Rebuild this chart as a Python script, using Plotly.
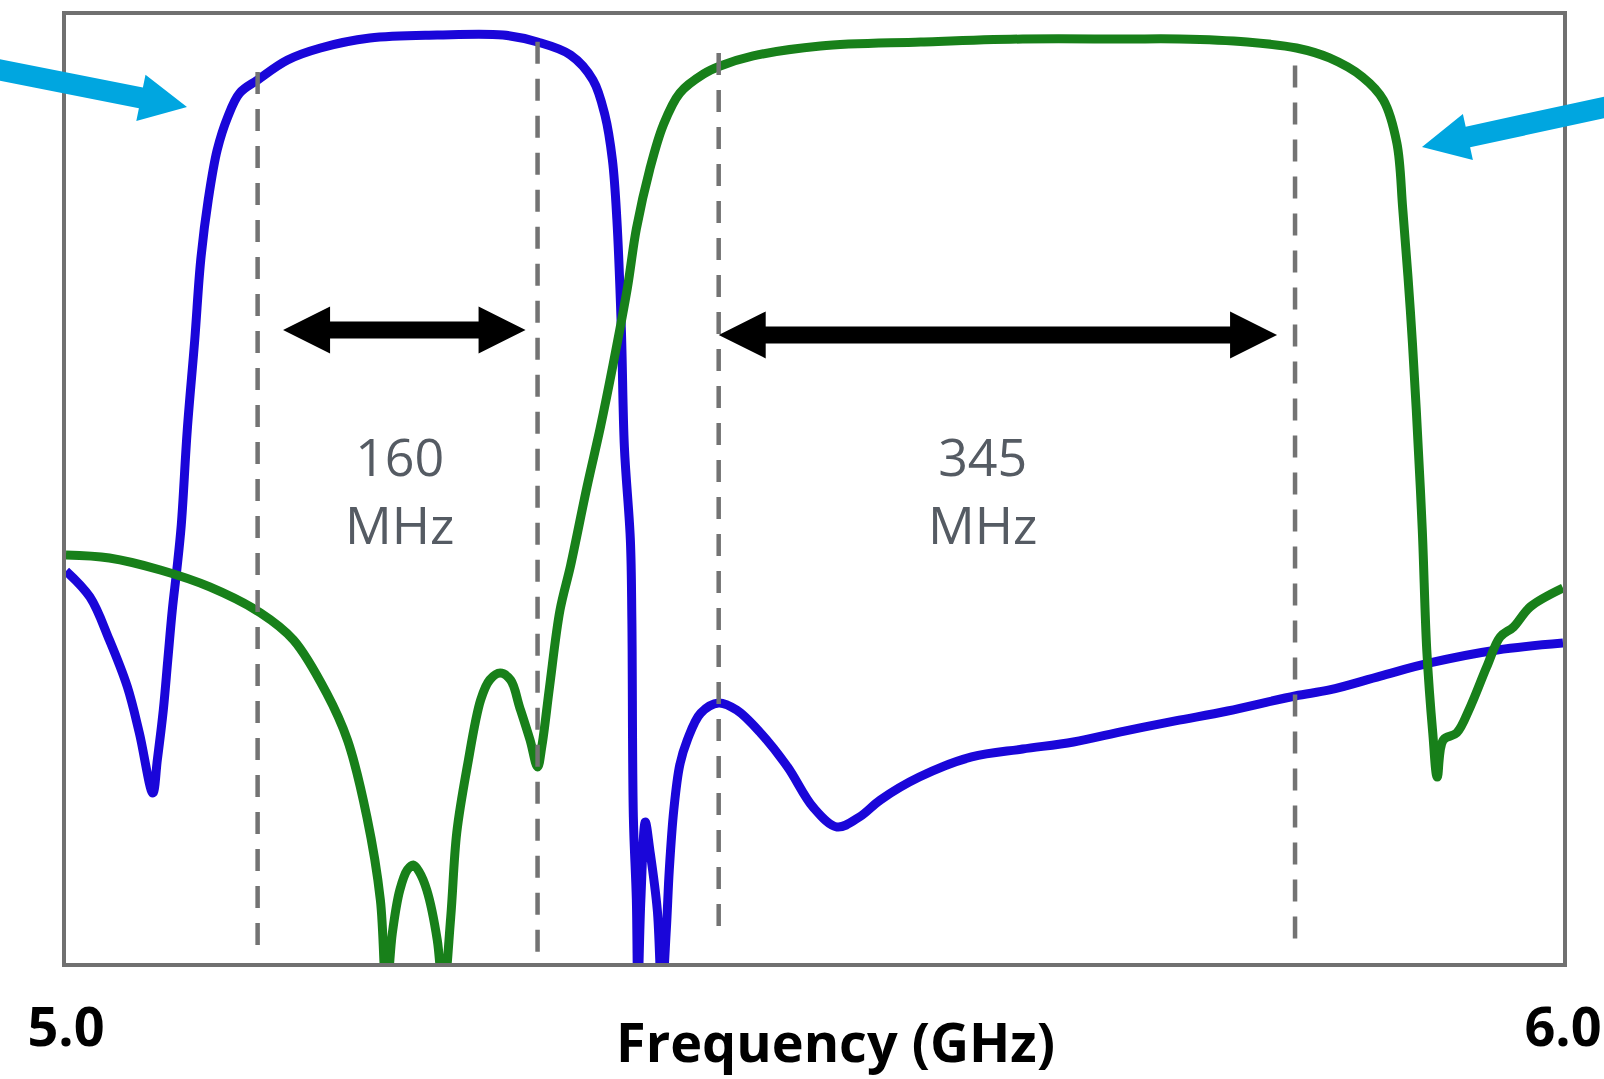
import plotly.graph_objects as go

# ---------------- data ----------------
blue_freq_ghz = [5.000, 5.016, 5.029, 5.041, 5.049, 5.058, 5.061, 5.065, 5.068, 5.071,
                 5.074, 5.077, 5.081, 5.086, 5.090, 5.095, 5.101, 5.108, 5.116, 5.128,
                 5.148, 5.170, 5.203, 5.248, 5.292, 5.315, 5.337, 5.352, 5.360, 5.365,
                 5.368, 5.371, 5.373, 5.377, 5.378, 5.379, 5.381, 5.382, 5.384, 5.387,
                 5.390, 5.395, 5.398, 5.401, 5.403, 5.406, 5.410, 5.415, 5.424, 5.436,
                 5.448, 5.464, 5.482, 5.499, 5.515, 5.530, 5.544, 5.570, 5.605, 5.639,
                 5.673, 5.707, 5.741, 5.776, 5.821, 5.844, 5.878, 5.911, 5.956, 6.000]
blue_db = [-35.19, -36.84, -39.56, -42.53, -45.44, -49.24, -47.15, -43.99, -40.82, -37.66,
           -35.13, -32.28, -26.27, -20.57, -15.51, -11.71, -8.54, -6.46, -4.94, -4.11,
           -2.85, -2.09, -1.46, -1.27, -1.27, -1.71, -2.53, -4.11, -6.33, -9.18,
           -12.97, -19.94, -27.34, -33.23, -38.29, -50.76, -56.01, -62.0, -56.01, -51.08,
           -52.85, -56.65, -62.0, -57.91, -54.11, -50.32, -47.47, -45.89, -44.18, -43.54,
           -43.99, -45.44, -47.59, -50.13, -51.39, -50.76, -49.68, -48.23, -46.96, -46.46,
           -46.01, -45.32, -44.68, -44.05, -43.10, -42.72, -41.84, -41.01, -40.19, -39.75]

green_freq_ghz = [5.000, 5.029, 5.063, 5.096, 5.130, 5.152, 5.174, 5.188, 5.201, 5.210,
                  5.214, 5.218, 5.223, 5.228, 5.232, 5.236, 5.241, 5.248, 5.252, 5.257,
                  5.261, 5.268, 5.277, 5.283, 5.290, 5.297, 5.303, 5.310, 5.315, 5.318,
                  5.323, 5.330, 5.337, 5.348, 5.357, 5.365, 5.375, 5.381, 5.390, 5.399,
                  5.410, 5.426, 5.437, 5.459, 5.504, 5.571, 5.639, 5.707, 5.744, 5.789,
                  5.822, 5.844, 5.866, 5.880, 5.889, 5.893, 5.898, 5.902, 5.906, 5.909,
                  5.913, 5.916, 5.920, 5.929, 5.938, 5.949, 5.958, 5.967, 5.978, 6.000]
green_db = [-34.18, -34.37, -35.13, -36.20, -37.85, -39.56, -42.91, -45.89, -50.76, -56.01,
            -62.0, -58.10, -55.38, -54.11, -53.80, -54.24, -55.38, -58.54, -62.0, -57.09,
            -51.77, -47.59, -43.35, -42.09, -41.65, -42.09, -43.80, -45.89, -47.59, -46.20,
            -42.53, -37.66, -34.87, -29.87, -26.08, -22.34, -17.28, -13.54, -9.75, -6.96,
            -4.94, -3.73, -3.23, -2.59, -1.96, -1.71, -1.52, -1.52, -1.52, -1.71,
            -2.09, -2.72, -3.92, -5.38, -8.10, -12.34, -18.67, -25.00, -32.59, -40.19,
            -45.44, -48.23, -45.89, -45.44, -43.80, -41.27, -39.37, -38.73, -37.47, -36.27]

marker_freqs = [5.128, 5.315, 5.436, 5.821]       # dashed band edges (GHz)
marker_top_db = [-3.6, -1.7, -2.4, -3.2]
marker_bottom_db = [-59.2, -59.4, -58.5, -58.8]

band_start_ghz = [5.145, 5.436]                    # double-arrow spans
band_end_ghz = [5.307, 5.809]
band_arrow_db = [-19.94, -20.25]
band_label_text = ["160<br>MHz", "345<br>MHz"]
band_label_ghz = [5.223, 5.612]
band_label_db = [-30.0, -30.0]

x_tick_vals = [5.0, 6.0]
x_tick_text = ["5.0", "6.0"]
x_title = "Frequency (GHz)"

# ---------------- geometry / style ----------------
W, H = 1604, 1079
ML, MR, MT, MB = 66, 41, 15, 116
PW, PH = W - ML - MR, H - MT - MB
X_RANGE = [5.0, 6.0]
Y_RANGE = [-60.0, 0.0]
px_x = (X_RANGE[1] - X_RANGE[0]) / PW   # GHz per pixel
px_y = (Y_RANGE[1] - Y_RANGE[0]) / PH   # dB per pixel

BLUE = "#1a06d9"
GREEN = "#18801a"
GRAY = "#737373"
CYAN = "#00a6e0"
TEXT_GRAY = "#555b63"

fig = go.Figure()
fig.add_trace(go.Scatter(x=blue_freq_ghz, y=blue_db, mode="lines",
                         line=dict(color=BLUE, width=9, shape="spline", smoothing=1.0),
                         showlegend=False, hoverinfo="skip"))
fig.add_trace(go.Scatter(x=green_freq_ghz, y=green_db, mode="lines",
                         line=dict(color=GREEN, width=9, shape="spline", smoothing=1.0),
                         showlegend=False, hoverinfo="skip"))

shapes = []
for f, yt, yb in zip(marker_freqs, marker_top_db, marker_bottom_db):
    shapes.append(dict(type="line", xref="x", yref="y", x0=f, x1=f, y0=yt, y1=yb,
                       line=dict(color=GRAY, width=4.5, dash="22px,15px"), layer="above"))


def double_arrow(x0, x1, y, head_len_px=47, head_half_px=23.5, shaft_half_px=8.5):
    hl = head_len_px * px_x
    hh = head_half_px * px_y
    sh = shaft_half_px * px_y
    pts = [(x0, y), (x0 + hl, y + hh), (x0 + hl, y + sh), (x1 - hl, y + sh),
           (x1 - hl, y + hh), (x1, y), (x1 - hl, y - hh), (x1 - hl, y - sh),
           (x0 + hl, y - sh), (x0 + hl, y - hh)]
    return "M " + " L ".join(f"{a:.5f},{b:.4f}" for a, b in pts) + " Z"


for x0, x1, y in zip(band_start_ghz, band_end_ghz, band_arrow_db):
    shapes.append(dict(type="path", xref="x", yref="y", path=double_arrow(x0, x1, y),
                       fillcolor="black", line=dict(width=0), layer="above"))


def to_paper(px, py):
    return (px - ML) / PW, (MT + PH - py) / PH


def paper_path(points):
    conv = [to_paper(a, b) for a, b in points]
    return "M " + " L ".join(f"{a:.5f},{b:.5f}" for a, b in conv) + " Z"


# cyan pointer arrows (pixel outline of the pointer shapes)
left_pointer = [(-8.0, 57.6), (142.9, 87.6), (145.5, 74.8), (187.0, 107.0),
                (136.3, 121.0), (138.9, 108.2), (-12.0, 78.3)]
right_pointer = [(1611.8, 95.0), (1465.7, 126.7), (1462.9, 114.0), (1422.0, 147.0),
                 (1472.9, 160.0), (1470.1, 147.3), (1616.2, 115.6)]
for pts in (left_pointer, right_pointer):
    shapes.append(dict(type="path", xref="paper", yref="paper", path=paper_path(pts),
                       fillcolor=CYAN, line=dict(width=0), layer="above"))

annotations = []
for txt, fx, fy in zip(band_label_text, band_label_ghz, band_label_db):
    annotations.append(dict(text=txt, x=fx, y=fy, xref="x", yref="y", showarrow=False,
                            xanchor="center", yanchor="middle",
                            font=dict(family="Open Sans", size=52, color=TEXT_GRAY)))
annotations.append(dict(text=x_title, x=to_paper(835, 0)[0], y=to_paper(0, 1041)[1],
                        xref="paper", yref="paper", showarrow=False,
                        xanchor="center", yanchor="middle",
                        font=dict(family="Open Sans", size=54, color="black", weight="bold")))

fig.update_layout(
    width=W, height=H,
    margin=dict(l=ML, r=MR, t=MT, b=MB, autoexpand=False),
    paper_bgcolor="white", plot_bgcolor="white",
    shapes=shapes, annotations=annotations,
    xaxis=dict(range=X_RANGE, showgrid=False, zeroline=False,
               showline=True, mirror=True, linecolor="#707070", linewidth=3.5,
               tickvals=x_tick_vals, ticktext=x_tick_text, ticks="",
               ticklabelstandoff=14,
               tickfont=dict(family="Open Sans", size=54, color="black", weight="bold"),
               automargin=False),
    yaxis=dict(range=Y_RANGE, showgrid=False, zeroline=False,
               showline=True, mirror=True, linecolor="#707070", linewidth=3.5,
               showticklabels=False, ticks="", automargin=False),
)

fig.write_html("out.html", config={"displayModeBar": False},
               post_script="document.body.style.margin='0px';document.body.style.overflow='hidden';")
